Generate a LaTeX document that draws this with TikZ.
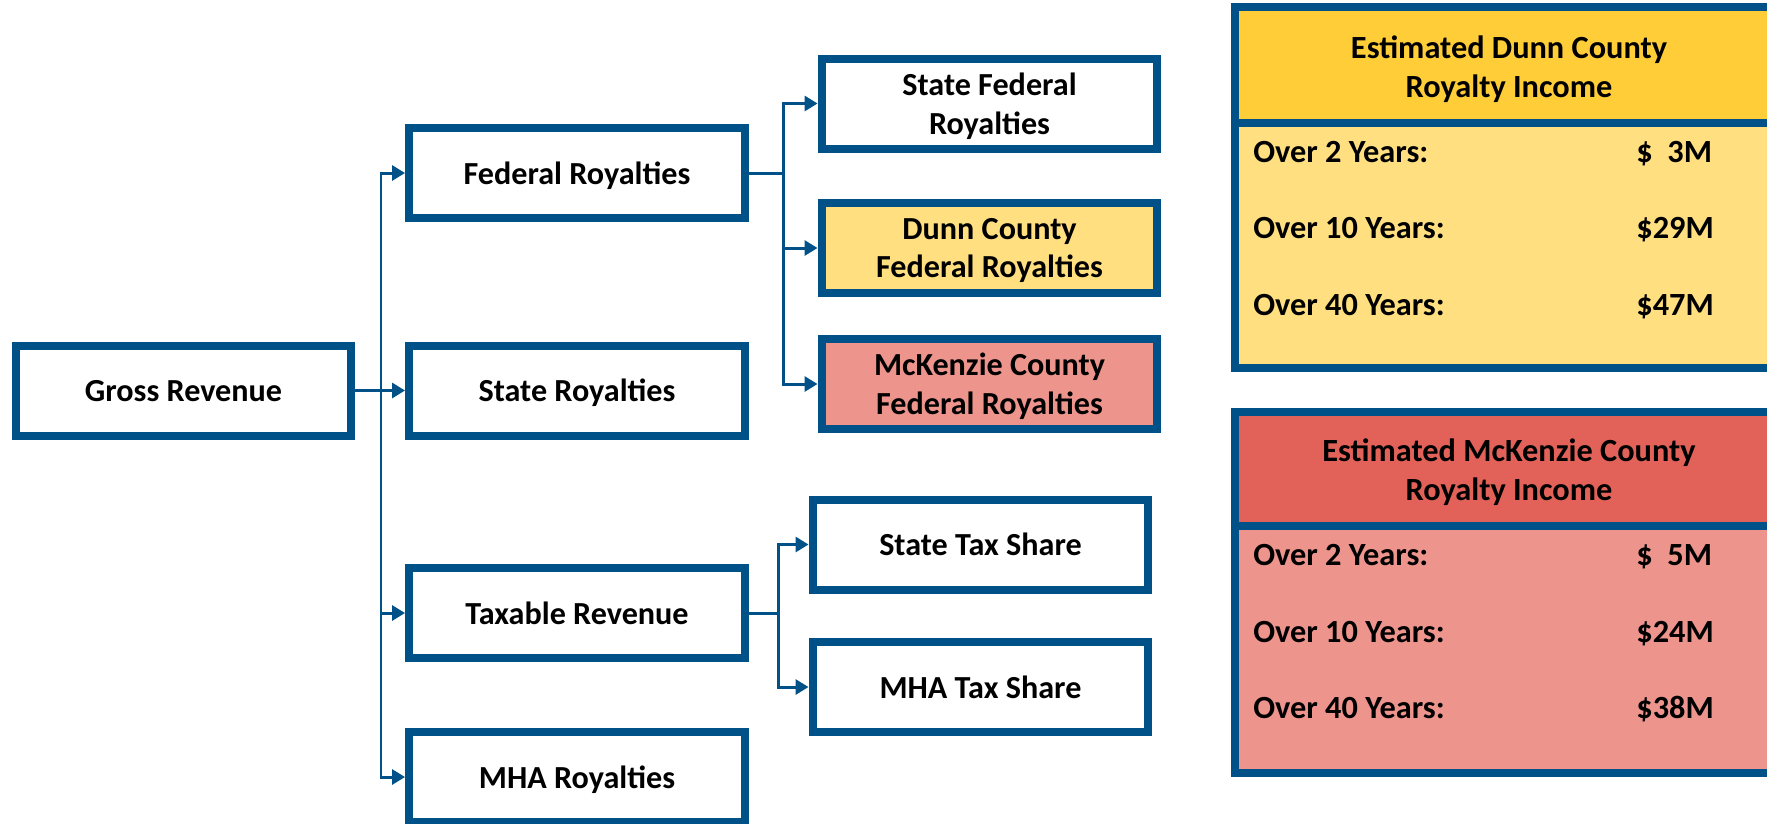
\documentclass[tikz,border=0pt]{standalone}
\usepackage{fontspec}
\setmainfont{Carlito}
\usetikzlibrary{arrows.meta}
\definecolor{boxblue}{RGB}{0,81,136}
\definecolor{dunnhead}{RGB}{255,205,55}
\definecolor{dunnbody}{RGB}{255,223,128}
\definecolor{mckhead}{RGB}{226,98,89}
\definecolor{mckbody}{RGB}{237,148,141}

\begin{document}
\begin{tikzpicture}[x=0.02cm,y=-0.02cm,font=\bfseries\fontsize{18.3}{22}\selectfont,
	box/.style={draw=boxblue,line width=0.16cm,fill=white,inner sep=0pt,minimum width=6.72cm,minimum height=1.8cm,align=center,text depth=0pt},
	link/.style={draw=boxblue,line width=1.7pt},
	tolink/.style={link,-{Triangle[length=0.26cm,width=0.3cm]}},
	paneltext/.style={font=\bfseries\fontsize{18.4}{22.5}\selectfont,inner sep=0pt,align=center}]
	\clip (0,0) rectangle (1767,823); %page

	%revenue tree------------------------------------------
	\node[box] (gross) at (183.5,390.5) {Gross Revenue}; %root
	\node[box] (fed) at (577,173) {Federal Royalties}; %federal
	\node[box] (state) at (577,390.5) {State Royalties}; %state
	\node[box] (taxable) at (577,613) {Taxable Revenue}; %taxable
	\node[box] (mharoy) at (577,777) {MHA Royalties}; %mha

	\coordinate (trunk) at (381,390.5); %split of gross
	\draw[link] (gross.east) -- (trunk);
	\draw[tolink] (trunk) |- (fed.west);
	\draw[tolink] (trunk) -- (state.west);
	\draw[tolink] (trunk) |- (taxable.west);
	\draw[tolink] (trunk) |- (mharoy.west);

	%federal split----------------------------------------
	\node[box] (statefed) at (989.5,103.5) {State Federal\\Royalties};
	\node[box,fill=dunnbody] (dunnfed) at (989.5,248) {Dunn County\\Federal Royalties};
	\node[box,fill=mckbody] (mckfed) at (989.5,384) {McKenzie County\\Federal Royalties};

	\coordinate (fedsplit) at (783,173); %split of federal
	\draw[link] (fed.east) -- (fedsplit);
	\draw[tolink] (fedsplit) |- (statefed.west);
	\draw[tolink] (fedsplit) |- (dunnfed.west);
	\draw[tolink] (fedsplit) |- (mckfed.west);

	%tax split--------------------------------------------
	\node[box] (statetax) at (980.5,544.5) {State Tax Share};
	\node[box] (mhatax) at (980.5,687) {MHA Tax Share};

	\coordinate (taxsplit) at (778,613); %split of taxable
	\draw[link] (taxable.east) -- (taxsplit);
	\draw[tolink] (taxsplit) |- (statetax.west);
	\draw[tolink] (taxsplit) |- (mhatax.west);

	%Dunn County panel------------------------------------
	\fill[dunnhead] (1235,7) rectangle (1800,122.5); %header
	\fill[dunnbody] (1235,122.5) rectangle (1800,368); %body
	\draw[boxblue,line width=0.16cm] (1235,7) rectangle (1800,368) (1235,122.5) -- (1800,122.5); %frame
	\node[paneltext] (dunntitle) at (1509,69) {Estimated Dunn County\\Royalty Income};
	\node[paneltext,anchor=base west] (dunnyr2) at (1253,162) {Over 2 Years:};
	\node[paneltext,anchor=base west] (dunnval2) at (1636,162) {\$\ \ 3M};
	\node[paneltext,anchor=base west] (dunnyr10) at (1253,238) {Over 10 Years:};
	\node[paneltext,anchor=base west] (dunnval10) at (1636,238) {\$29M};
	\node[paneltext,anchor=base west] (dunnyr40) at (1253,315) {Over 40 Years:};
	\node[paneltext,anchor=base west] (dunnval40) at (1636,315) {\$47M};

	%McKenzie County panel--------------------------------
	\fill[mckhead] (1235,411.5) rectangle (1800,526); %header
	\fill[mckbody] (1235,526) rectangle (1800,772.5); %body
	\draw[boxblue,line width=0.16cm] (1235,411.5) rectangle (1800,772.5) (1235,526) -- (1800,526); %frame
	\node[paneltext] (mcktitle) at (1509,472) {Estimated McKenzie County\\Royalty Income};
	\node[paneltext,anchor=base west] (mckyr2) at (1253,565) {Over 2 Years:};
	\node[paneltext,anchor=base west] (mckval2) at (1636,565) {\$\ \ 5M};
	\node[paneltext,anchor=base west] (mckyr10) at (1253,642) {Over 10 Years:};
	\node[paneltext,anchor=base west] (mckval10) at (1636,642) {\$24M};
	\node[paneltext,anchor=base west] (mckyr40) at (1253,718) {Over 40 Years:};
	\node[paneltext,anchor=base west] (mckval40) at (1636,718) {\$38M};
\end{tikzpicture}
\end{document}
